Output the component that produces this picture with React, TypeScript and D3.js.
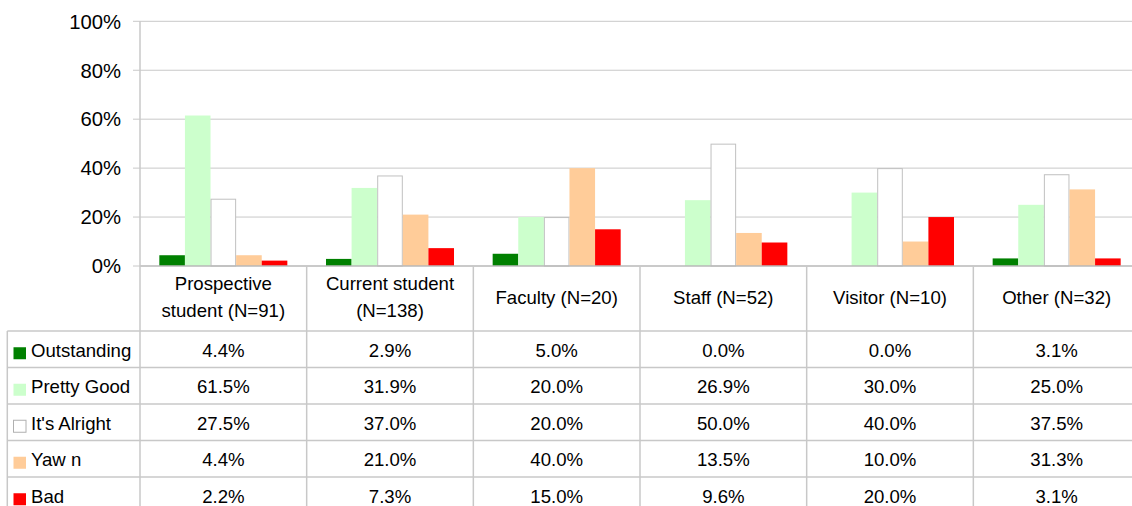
import React from "react";
import * as d3 from "d3";

const categories: string[][] = [
  ["Prospective", "student (N=91)"],
  ["Current student", "(N=138)"],
  ["Faculty (N=20)"],
  ["Staff (N=52)"],
  ["Visitor (N=10)"],
  ["Other (N=32)"],
];
const seriesNames = ["Outstanding", "Pretty Good", "It's Alright", "Yaw n", "Bad"];
const seriesColors = ["#008000", "#ccffcc", "#ffffff", "#ffcc99", "#ff0000"];
const outstanding = [4.4, 2.9, 5.0, 0.0, 0.0, 3.1];
const prettyGood = [61.5, 31.9, 20.0, 26.9, 30.0, 25.0];
const itsAlright = [27.5, 37.0, 20.0, 50.0, 40.0, 37.5];
const yawn = [4.4, 21.0, 40.0, 13.5, 10.0, 31.3];
const bad = [2.2, 7.3, 15.0, 9.6, 20.0, 3.1];
const yTicks = [0, 20, 40, 60, 80, 100];

const seriesValues = [outstanding, prettyGood, itsAlright, yawn, bad];

const W = 1132;
const H = 506;
const plotLeft = 140;
const plotRight = 1140;
const plotTop = 21.3;
const plotBottom = 266;
const headerBottom = 331;
const rowH = 36.5;
const FONT = "'Liberation Sans', Arial, sans-serif";
const gridColor = "#c8c8c8";
const TF = 18.6;

export default function App() {
  const x = d3
    .scaleBand<number>()
    .domain(d3.range(categories.length))
    .range([plotLeft, plotRight])
    .padding(0);
  const xi = d3
    .scaleBand<number>()
    .domain(d3.range(seriesNames.length))
    .range([0, x.bandwidth()])
    .paddingInner(0)
    .paddingOuter(0.755);
  const y = d3.scaleLinear().domain([0, 100]).range([plotBottom, plotTop]);
  const bw = x.bandwidth();

  return (
    <svg
      width={W}
      height={H}
      style={{ position: "absolute", left: 0, top: 0, background: "#fff" }}
      fontFamily={FONT}
    >
      {yTicks.map((t) => (
        <g key={"t" + t}>
          {t > 0 && (
            <line x1={plotLeft} x2={plotRight} y1={y(t)} y2={y(t)} stroke={gridColor} strokeWidth={1} />
          )}
          <line x1={133} x2={plotLeft} y1={y(t)} y2={y(t)} stroke={gridColor} strokeWidth={1} />
          <text x={121} y={y(t) + 7.3} textAnchor="end" fontSize={20.3} fill="#000">
            {t + "%"}
          </text>
        </g>
      ))}
      {categories.map((_, ci) => (
        <g key={"c" + ci} transform={`translate(${x(ci)},0)`}>
          {seriesValues.map((vals, si) => {
            const v = vals[ci];
            if (v <= 0) return null;
            const isWhite = seriesColors[si] === "#ffffff";
            return (
              <rect
                key={si}
                x={(xi(si) as number) + (isWhite ? 0.5 : 0)}
                y={y(v) + (isWhite ? 0.5 : 0)}
                width={xi.bandwidth() - (isWhite ? 1 : 0)}
                height={plotBottom - y(v) - (isWhite ? 0.5 : 0)}
                fill={seriesColors[si]}
                stroke={isWhite ? "#c0c0c0" : "none"}
                strokeWidth={1}
              />
            );
          })}
        </g>
      ))}
      <line x1={plotLeft} x2={plotRight} y1={plotBottom} y2={plotBottom} stroke="#b8b8b8" strokeWidth={1.5} />
      <line x1={plotLeft} x2={plotLeft} y1={plotTop} y2={H} stroke={gridColor} strokeWidth={1.5} />
      {categories.map((_, ci) =>
        ci > 0 ? (
          <line
            key={"v" + ci}
            x1={x(ci) as number}
            x2={x(ci) as number}
            y1={plotBottom}
            y2={H}
            stroke={gridColor}
            strokeWidth={1.5}
          />
        ) : null
      )}
      <line x1={7.3} x2={7.3} y1={headerBottom} y2={H} stroke={gridColor} strokeWidth={1.5} />
      {seriesNames.map((_, si) => (
        <line
          key={"h" + si}
          x1={7.3}
          x2={plotRight}
          y1={headerBottom + si * rowH}
          y2={headerBottom + si * rowH}
          stroke={gridColor}
          strokeWidth={1.5}
        />
      ))}
      {categories.map((lines, ci) => {
        const cx = (x(ci) as number) + bw / 2;
        const mid = (plotBottom + headerBottom) / 2;
        const lh = 27;
        const start = mid + 5 - ((lines.length - 1) * lh) / 2;
        return (
          <text key={"hl" + ci} x={cx} textAnchor="middle" fontSize={TF} fill="#000">
            {lines.map((l, li) => (
              <tspan key={li} x={cx} y={start + li * lh}>
                {l}
              </tspan>
            ))}
          </text>
        );
      })}
      {seriesNames.map((name, si) => {
        const cy = headerBottom + si * rowH + rowH / 2;
        return (
          <g key={"r" + si}>
            <rect
              x={13.5}
              y={cy - 2}
              width={12.5}
              height={12}
              fill={seriesColors[si]}
              stroke={seriesColors[si] === "#ffffff" ? "#b0b0b0" : "none"}
              strokeWidth={1}
            />
            <text x={31} y={cy + 7.5} fontSize={TF} fill="#000">
              {name}
            </text>
            {categories.map((_, ci) => (
              <text
                key={ci}
                x={(x(ci) as number) + bw / 2}
                y={cy + 7.5}
                textAnchor="middle"
                fontSize={TF}
                fill="#000"
              >
                {seriesValues[si][ci].toFixed(1) + "%"}
              </text>
            ))}
          </g>
        );
      })}
    </svg>
  );
}
